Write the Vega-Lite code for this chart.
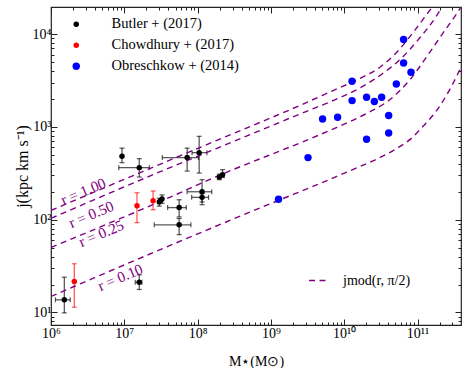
{
  "$schema": "https://vega.github.io/schema/vega-lite/v6.json",
  "width": 410,
  "height": 318,
  "autosize": "none",
  "padding": {"left": 51, "top": 7, "right": 8, "bottom": 43},
  "config": {
    "view": {"stroke": "#222", "strokeWidth": 1.2},
    "font": "Liberation Serif",
    "axis": {"labelFont": "Liberation Serif", "titleFont": "Liberation Serif", "labelFontSize": 14, "titleFontSize": 14, "titleFontWeight": "normal", "labelColor": "black", "titleColor": "black", "tickColor": "#222", "grid": false, "domain": false, "labelOverlap": false, "labelFlush": false},
    "legend": {"labelFont": "Liberation Serif", "labelFontSize": 14, "labelColor": "black"}
  },
  "datasets": {
    "obs": [
      {"survey": "Butler + (2017)", "M": 9.3e6, "j": 482, "jlo": 412, "jhi": 591},
      {"survey": "Butler + (2017)", "M": 1.6e7, "j": 364, "Mlo": 8.4e6, "Mhi": 2.2e7, "jlo": 288, "jhi": 455},
      {"survey": "Butler + (2017)", "M": 7.2e7, "j": 467, "Mlo": 3.3e7, "Mhi": 1.03e8, "jlo": 334, "jhi": 591},
      {"survey": "Butler + (2017)", "M": 1.05e8, "j": 528, "Mlo": 8.4e7, "Mhi": 1.34e8, "jlo": 318, "jhi": 792},
      {"survey": "Butler + (2017)", "M": 1.98e8, "j": 288, "jlo": 270, "jhi": 310},
      {"survey": "Butler + (2017)", "M": 2.19e8, "j": 306, "jlo": 285, "jhi": 346},
      {"survey": "Butler + (2017)", "M": 1.15e8, "j": 200, "Mlo": 7.2e7, "Mhi": 1.56e8, "jlo": 155, "jhi": 270},
      {"survey": "Butler + (2017)", "M": 1.15e8, "j": 174, "Mlo": 8.3e7, "Mhi": 1.41e8, "jlo": 145, "jhi": 190},
      {"survey": "Butler + (2017)", "M": 5.6e7, "j": 135, "Mlo": 3.9e7, "Mhi": 7.0e7, "jlo": 107, "jhi": 164},
      {"survey": "Butler + (2017)", "M": 5.6e7, "j": 88, "Mlo": 2.56e7, "Mhi": 8.1e7, "jlo": 69, "jhi": 103},
      {"survey": "Butler + (2017)", "M": 3.0e7, "j": 155, "jlo": 140, "jhi": 170},
      {"survey": "Butler + (2017)", "M": 3.13e7, "j": 161},
      {"survey": "Butler + (2017)", "M": 3.27e7, "j": 167, "jlo": 150, "jhi": 185},
      {"survey": "Butler + (2017)", "M": 1.52e6, "j": 13.7, "Mlo": 1.15e6, "Mhi": 1.83e6, "jlo": 9.9, "jhi": 24},
      {"survey": "Butler + (2017)", "M": 1.6e7, "j": 21.2, "Mlo": 1.41e7, "Mhi": 1.74e7, "jlo": 17.7, "jhi": 25.5},
      {"survey": "Chowdhury + (2017)", "M": 2.08e6, "j": 21.6, "jlo": 11.4, "jhi": 33.5},
      {"survey": "Chowdhury + (2017)", "M": 1.49e7, "j": 141.6, "jlo": 93, "jhi": 195},
      {"survey": "Chowdhury + (2017)", "M": 2.47e7, "j": 160, "jlo": 128, "jhi": 204},
      {"survey": "Obreschkow + (2014)", "M": 6.46e10, "j": 8750},
      {"survey": "Obreschkow + (2014)", "M": 6.46e10, "j": 4890},
      {"survey": "Obreschkow + (2014)", "M": 8.15e10, "j": 3880},
      {"survey": "Obreschkow + (2014)", "M": 1.28e10, "j": 3100},
      {"survey": "Obreschkow + (2014)", "M": 5.14e10, "j": 2900},
      {"survey": "Obreschkow + (2014)", "M": 1.28e10, "j": 1920},
      {"survey": "Obreschkow + (2014)", "M": 2.02e10, "j": 2085},
      {"survey": "Obreschkow + (2014)", "M": 2.58e10, "j": 1875},
      {"survey": "Obreschkow + (2014)", "M": 3.24e10, "j": 2085},
      {"survey": "Obreschkow + (2014)", "M": 5.07e9, "j": 1216},
      {"survey": "Obreschkow + (2014)", "M": 8.13e9, "j": 1271},
      {"survey": "Obreschkow + (2014)", "M": 4.04e10, "j": 1325},
      {"survey": "Obreschkow + (2014)", "M": 4.04e10, "j": 859},
      {"survey": "Obreschkow + (2014)", "M": 2.02e10, "j": 735},
      {"survey": "Obreschkow + (2014)", "M": 3.21e9, "j": 467},
      {"survey": "Obreschkow + (2014)", "M": 1.27e9, "j": 166}
    ],
    "curves": [
      {"r": "1.00", "model": "jmod(r, π/2)", "M": 1e6, "j": 126.0},
      {"r": "1.00", "model": "jmod(r, π/2)", "M": 2.263e7, "j": 357.6},
      {"r": "1.00", "model": "jmod(r, π/2)", "M": 1.839e8, "j": 716.9},
      {"r": "1.00", "model": "jmod(r, π/2)", "M": 2.793e9, "j": 1775},
      {"r": "1.00", "model": "jmod(r, π/2)", "M": 7.168e9, "j": 2482},
      {"r": "1.00", "model": "jmod(r, π/2)", "M": 1.659e10, "j": 3344},
      {"r": "1.00", "model": "jmod(r, π/2)", "M": 3.108e10, "j": 4428},
      {"r": "1.00", "model": "jmod(r, π/2)", "M": 5.252e10, "j": 6427},
      {"r": "1.00", "model": "jmod(r, π/2)", "M": 8.846e10, "j": 10562},
      {"r": "1.00", "model": "jmod(r, π/2)", "M": 1.417e11, "j": 17360},
      {"r": "1.00", "model": "jmod(r, π/2)", "M": 2.046e11, "j": 25630},
      {"r": "0.50", "model": "jmod(r, π/2)", "M": 1e6, "j": 103.3},
      {"r": "0.50", "model": "jmod(r, π/2)", "M": 2.263e7, "j": 296.9},
      {"r": "0.50", "model": "jmod(r, π/2)", "M": 1.839e8, "j": 587.6},
      {"r": "0.50", "model": "jmod(r, π/2)", "M": 2.946e9, "j": 1455},
      {"r": "0.50", "model": "jmod(r, π/2)", "M": 7.168e9, "j": 1936},
      {"r": "0.50", "model": "jmod(r, π/2)", "M": 1.659e10, "j": 2641},
      {"r": "0.50", "model": "jmod(r, π/2)", "M": 3.108e10, "j": 3602},
      {"r": "0.50", "model": "jmod(r, π/2)", "M": 5.826e10, "j": 5360},
      {"r": "0.50", "model": "jmod(r, π/2)", "M": 1.092e11, "j": 9260},
      {"r": "0.50", "model": "jmod(r, π/2)", "M": 1.845e11, "j": 15993},
      {"r": "0.50", "model": "jmod(r, π/2)", "M": 2.802e11, "j": 28314},
      {"r": "0.25", "model": "jmod(r, π/2)", "M": 1e6, "j": 50.25},
      {"r": "0.25", "model": "jmod(r, π/2)", "M": 4.243e7, "j": 175.3},
      {"r": "0.25", "model": "jmod(r, π/2)", "M": 1.839e8, "j": 293.2},
      {"r": "0.25", "model": "jmod(r, π/2)", "M": 3.546e9, "j": 753.4},
      {"r": "0.25", "model": "jmod(r, π/2)", "M": 7.974e9, "j": 990},
      {"r": "0.25", "model": "jmod(r, π/2)", "M": 2.047e10, "j": 1402},
      {"r": "0.25", "model": "jmod(r, π/2)", "M": 4.255e10, "j": 1985},
      {"r": "0.25", "model": "jmod(r, π/2)", "M": 7.978e10, "j": 3263},
      {"r": "0.25", "model": "jmod(r, π/2)", "M": 1.348e11, "j": 5775},
      {"r": "0.25", "model": "jmod(r, π/2)", "M": 2.270e11, "j": 10484},
      {"r": "0.25", "model": "jmod(r, π/2)", "M": 3.458e11, "j": 16808},
      {"r": "0.25", "model": "jmod(r, π/2)", "M": 4.49e11, "j": 23230},
      {"r": "0.10", "model": "jmod(r, π/2)", "M": 1e6, "j": 14.88},
      {"r": "0.10", "model": "jmod(r, π/2)", "M": 6.126e7, "j": 59.8},
      {"r": "0.10", "model": "jmod(r, π/2)", "M": 1.274e9, "j": 161.5},
      {"r": "0.10", "model": "jmod(r, π/2)", "M": 4.721e9, "j": 246.4},
      {"r": "0.10", "model": "jmod(r, π/2)", "M": 8.847e9, "j": 304.3},
      {"r": "0.10", "model": "jmod(r, π/2)", "M": 1.659e10, "j": 375.8},
      {"r": "0.10", "model": "jmod(r, π/2)", "M": 3.108e10, "j": 470},
      {"r": "0.10", "model": "jmod(r, π/2)", "M": 5.252e10, "j": 587.6},
      {"r": "0.10", "model": "jmod(r, π/2)", "M": 8.846e10, "j": 791.7},
      {"r": "0.10", "model": "jmod(r, π/2)", "M": 1.092e11, "j": 942.2},
      {"r": "0.10", "model": "jmod(r, π/2)", "M": 2.046e11, "j": 1710},
      {"r": "0.10", "model": "jmod(r, π/2)", "M": 3.108e11, "j": 3028},
      {"r": "0.10", "model": "jmod(r, π/2)", "M": 3.922e11, "j": 4395},
      {"r": "0.10", "model": "jmod(r, π/2)", "M": 4.49e11, "j": 5496}
    ],
    "labels": [
      {"label": "r = 1.00", "M": 2.76e6, "j": 202},
      {"label": "r = 0.50", "M": 3.55e6, "j": 114},
      {"label": "r = 0.25", "M": 4.86e6, "j": 71.1},
      {"label": "r = 0.10", "M": 8.81e6, "j": 23.9}
    ]
  },
  "layer": [
    {
      "data": {"name": "obs"},
      "transform": [{"filter": "isValid(datum.jlo)"}],
      "mark": {"type": "rule", "strokeWidth": 1.3, "strokeOpacity": 0.65},
      "encoding": {
        "x": {"field": "M", "type": "quantitative", "scale": {"type": "log", "domain": [1e6, 3.92e11], "nice": false}, "axis": null},
        "y": {"field": "jlo", "type": "quantitative", "scale": {"type": "log", "domain": [7.33, 19600], "nice": false}, "axis": null},
        "y2": {"field": "jhi"},
        "color": {"field": "survey", "type": "nominal", "scale": {"domain": ["Butler + (2017)", "Chowdhury + (2017)", "Obreschkow + (2014)"], "range": ["black", "red", "blue"]}}
      }
    },
    {
      "data": {"name": "obs"},
      "transform": [{"filter": "isValid(datum.jlo)"}],
      "mark": {"type": "tick", "orient": "horizontal", "size": 5, "thickness": 1.2, "fillOpacity": 0.65},
      "encoding": {
        "x": {"field": "M", "type": "quantitative", "axis": null},
        "y": {"field": "jlo", "type": "quantitative", "axis": null},
        "color": {"field": "survey", "type": "nominal"}
      }
    },
    {
      "data": {"name": "obs"},
      "transform": [{"filter": "isValid(datum.jhi)"}],
      "mark": {"type": "tick", "orient": "horizontal", "size": 5, "thickness": 1.2, "fillOpacity": 0.65},
      "encoding": {
        "x": {"field": "M", "type": "quantitative", "axis": null},
        "y": {"field": "jhi", "type": "quantitative", "axis": null},
        "color": {"field": "survey", "type": "nominal"}
      }
    },
    {
      "data": {"name": "obs"},
      "transform": [{"filter": "isValid(datum.Mlo)"}],
      "mark": {"type": "rule", "strokeWidth": 1.3, "strokeOpacity": 0.65},
      "encoding": {
        "x": {"field": "Mlo", "type": "quantitative", "axis": null},
        "x2": {"field": "Mhi"},
        "y": {"field": "j", "type": "quantitative", "axis": null},
        "color": {"field": "survey", "type": "nominal"}
      }
    },
    {
      "data": {"name": "obs"},
      "transform": [{"filter": "isValid(datum.Mlo)"}],
      "mark": {"type": "tick", "orient": "vertical", "size": 5, "thickness": 1.2, "fillOpacity": 0.65},
      "encoding": {
        "x": {"field": "Mlo", "type": "quantitative", "axis": null},
        "y": {"field": "j", "type": "quantitative", "axis": null},
        "color": {"field": "survey", "type": "nominal"}
      }
    },
    {
      "data": {"name": "obs"},
      "transform": [{"filter": "isValid(datum.Mhi)"}],
      "mark": {"type": "tick", "orient": "vertical", "size": 5, "thickness": 1.2, "fillOpacity": 0.65},
      "encoding": {
        "x": {"field": "Mhi", "type": "quantitative", "axis": null},
        "y": {"field": "j", "type": "quantitative", "axis": null},
        "color": {"field": "survey", "type": "nominal"}
      }
    },
    {
      "data": {"name": "curves"},
      "mark": {"type": "line", "color": "purple", "strokeWidth": 1.4, "clip": true, "interpolate": "monotone"},
      "encoding": {
        "x": {"field": "M", "type": "quantitative", "axis": {"orient": "top", "labels": false, "title": null, "values": [1e6,2e6,3e6,4e6,5e6,6e6,7e6,8e6,9e6,1e7,2e7,3e7,4e7,5e7,6e7,7e7,8e7,9e7,1e8,2e8,3e8,4e8,5e8,6e8,7e8,8e8,9e8,1e9,2e9,3e9,4e9,5e9,6e9,7e9,8e9,9e9,1e10,2e10,3e10,4e10,5e10,6e10,7e10,8e10,9e10,1e11,2e11,3e11], "tickSize": {"condition": {"test": "abs(log(datum.value)/LN10 - round(log(datum.value)/LN10)) < 0.001", "value": -6}, "value": -3}}},
        "y": {"field": "j", "type": "quantitative", "axis": {"orient": "right", "labels": false, "title": null, "values": [8,9,10,20,30,40,50,60,70,80,90,100,200,300,400,500,600,700,800,900,1000,2000,3000,4000,5000,6000,7000,8000,9000,10000], "tickSize": {"condition": {"test": "abs(log(datum.value)/LN10 - round(log(datum.value)/LN10)) < 0.001", "value": -6}, "value": -3}}},
        "detail": {"field": "r"},
        "strokeDash": {"field": "model", "type": "nominal", "scale": {"domain": ["jmod(r, π/2)"], "range": [[6, 4.5]]}, "legend": {"title": null, "orient": "none", "legendX": 257, "legendY": 263, "symbolType": "stroke", "symbolSize": 360, "symbolStrokeColor": "purple", "symbolStrokeWidth": 1.5, "labelOffset": 14, "labelFontSize": 14, "padding": 0}}
      }
    },
    {
      "data": {"name": "obs"},
      "mark": {"type": "circle", "opacity": 1},
      "encoding": {
        "x": {"field": "M", "type": "quantitative", "title": "M⋆(M⊙)", "axis": {"orient": "bottom", "titlePadding": 11, "labelPadding": 7, "values": [1e6,2e6,3e6,4e6,5e6,6e6,7e6,8e6,9e6,1e7,2e7,3e7,4e7,5e7,6e7,7e7,8e7,9e7,1e8,2e8,3e8,4e8,5e8,6e8,7e8,8e8,9e8,1e9,2e9,3e9,4e9,5e9,6e9,7e9,8e9,9e9,1e10,2e10,3e10,4e10,5e10,6e10,7e10,8e10,9e10,1e11,2e11,3e11], "labelExpr": "(abs(log(datum.value)/LN10 - round(log(datum.value)/LN10)) < 0.001) ? ('10' + (round(log(datum.value)/LN10) >= 10 ? '¹' + ['⁰','¹','²','³','⁴','⁵','⁶','⁷','⁸','⁹'][round(log(datum.value)/LN10) - 10] : ['⁰','¹','²','³','⁴','⁵','⁶','⁷','⁸','⁹'][round(log(datum.value)/LN10)])) : ''", "tickSize": {"condition": {"test": "abs(log(datum.value)/LN10 - round(log(datum.value)/LN10)) < 0.001", "value": -6}, "value": -3}}},
        "y": {"field": "j", "type": "quantitative", "title": "j(kpc km s⁻¹)", "axis": {"orient": "left", "titleFontSize": 16, "titlePadding": 2, "labelPadding": 6, "values": [8,9,10,20,30,40,50,60,70,80,90,100,200,300,400,500,600,700,800,900,1000,2000,3000,4000,5000,6000,7000,8000,9000,10000], "labelExpr": "(abs(log(datum.value)/LN10 - round(log(datum.value)/LN10)) < 0.001) ? ('10' + ['⁰','¹','²','³','⁴','⁵','⁶','⁷','⁸','⁹'][round(log(datum.value)/LN10)]) : ''", "tickSize": {"condition": {"test": "abs(log(datum.value)/LN10 - round(log(datum.value)/LN10)) < 0.001", "value": -6}, "value": -3}}},
        "color": {"field": "survey", "type": "nominal", "legend": {"title": null, "orient": "none", "legendX": 18, "legendY": 10, "rowPadding": 6, "labelOffset": 28, "labelFontSize": 14.5, "symbolType": "circle", "symbolStrokeWidth": 0, "symbolOpacity": 1, "padding": 0}},
        "size": {"field": "survey", "type": "ordinal", "scale": {"type": "ordinal", "domain": ["Butler + (2017)", "Chowdhury + (2017)", "Obreschkow + (2014)"], "range": [30, 30, 55]}, "legend": {"title": null, "orient": "none", "legendX": 18, "legendY": 10, "rowPadding": 6, "labelOffset": 28, "labelFontSize": 14.5, "symbolType": "circle", "symbolStrokeWidth": 0, "symbolOpacity": 1, "padding": 0}}
      }
    },
    {
      "data": {"name": "labels"},
      "mark": {"type": "text", "angle": -23, "color": "purple", "font": "Liberation Serif", "fontSize": 15, "align": "center", "baseline": "middle"},
      "encoding": {
        "x": {"field": "M", "type": "quantitative", "axis": null},
        "y": {"field": "j", "type": "quantitative", "axis": null},
        "text": {"field": "label"}
      }
    }
  ],
  "resolve": {"axis": {"x": "independent", "y": "independent"}}
}
